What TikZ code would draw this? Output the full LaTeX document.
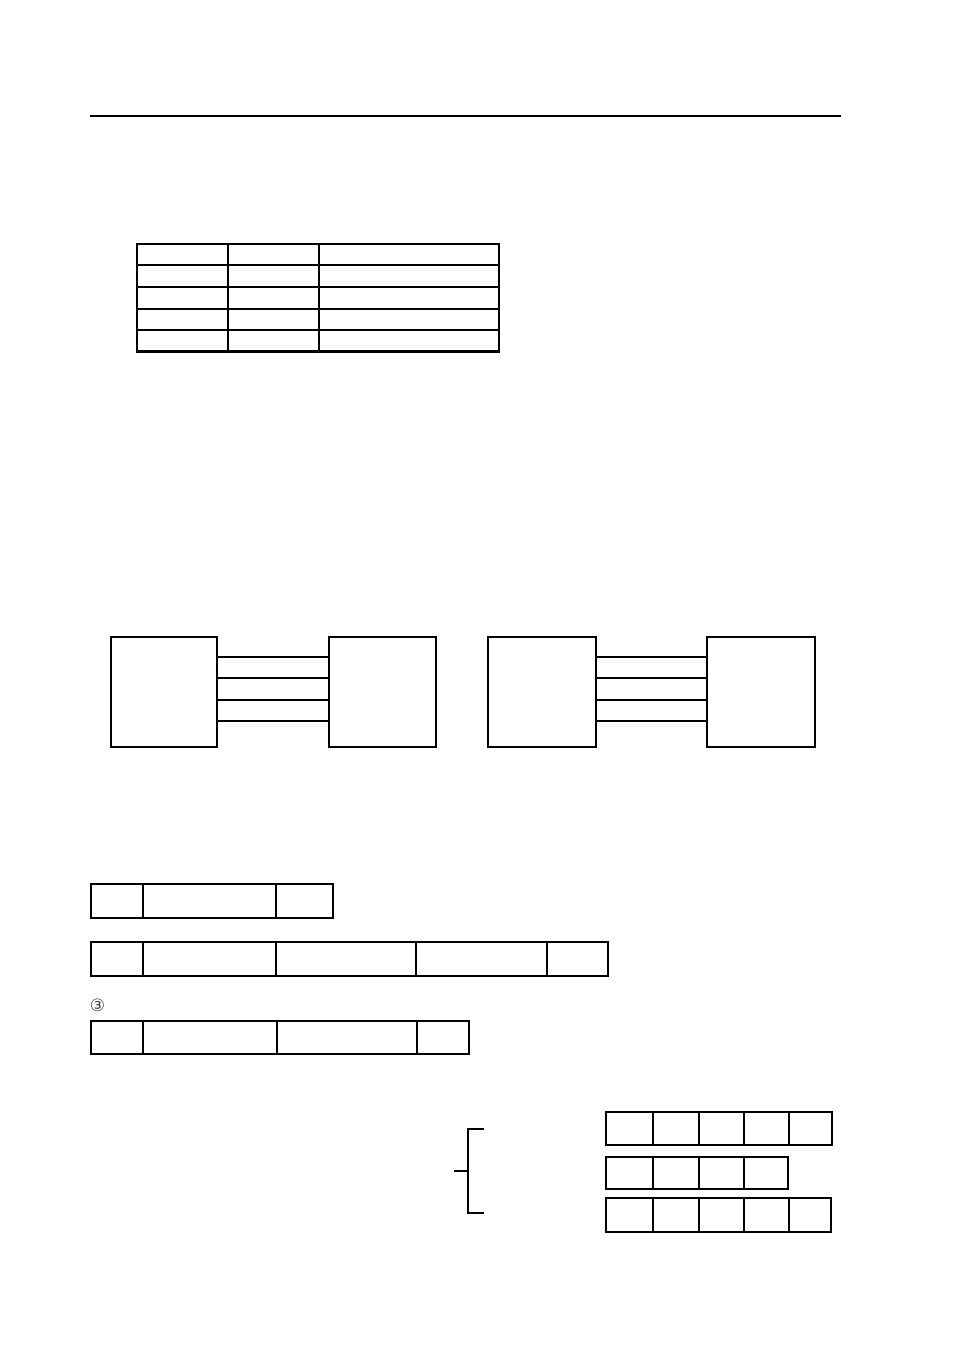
\documentclass[tikz,border=0pt]{standalone}
\usepackage{fontspec}
\newfontfamily\symfont{DejaVu Sans}
\usetikzlibrary{fit}
\tikzset{
  ln/.style={line width=1.2pt, line cap=rect},
  box/.style={draw, line width=1.2pt, inner sep=0pt, fit={#1}},
}
\begin{document}
\begin{tikzpicture}[x=1pt,y=-1pt]
\useasboundingbox (0,0) rectangle (954,1351);
% top rule
\coordinate (tl) at (91,116);
\coordinate (tr) at (840,116);
\draw[ln] (tl) -- (tr);
% table
\foreach \r/\ya/\yb in {1/244/265,2/265/287,3/287/309,4/309/330,5/330/351}{
  \foreach \c/\xa/\xb in {1/137/228,2/228/319,3/319/499}{
    \node[box={(\xa,\ya) (\xb,\yb)}] (t\r\c) {};
  }
}
\draw[line width=2.6pt] (t51.south west) -- (t53.south east);
% block diagrams
\node[box={(111,637) (217,747)}] (A1) {};
\node[box={(329,637) (436,747)}] (B1) {};
\node[box={(488,637) (596,747)}] (A2) {};
\node[box={(707,637) (815,747)}] (B2) {};
\foreach \y in {657,678,700,721}{
  \draw[ln] (A1.east |- 0,\y) -- (B1.west |- 0,\y);
  \draw[ln] (A2.east |- 0,\y) -- (B2.west |- 0,\y);
}
% frame rows
\foreach \c/\xa/\xb in {1/91/143,2/143/276,3/276/333}{
  \node[box={(\xa,884) (\xb,918)}] (f1\c) {};
}
\foreach \c/\xa/\xb in {1/91/143,2/143/276,3/276/416,4/416/547,5/547/608}{
  \node[box={(\xa,942) (\xb,976)}] (f2\c) {};
}
\node[anchor=center, inner sep=0pt, text=black!75] (n3) at (97.5,1005) {\symfont\fontsize{17pt}{17pt}\selectfont ③};
\foreach \c/\xa/\xb in {1/91/143,2/143/277,3/277/417,4/417/469}{
  \node[box={(\xa,1021) (\xb,1054)}] (f3\c) {};
}
% bracket
\coordinate (bt) at (468,1129);
\coordinate (bte) at (483,1129);
\coordinate (bb) at (468,1213);
\coordinate (bbe) at (483,1213);
\coordinate (bm) at (468,1171);
\coordinate (bms) at (455,1171);
\draw[ln] (bte) -- (bt) -- (bb) -- (bbe);
\draw[ln] (bms) -- (bm);
% grid rows
\foreach \c/\xa/\xb in {1/606/653,2/653/699,3/699/744,4/744/789,5/789/832}{
  \node[box={(\xa,1112) (\xb,1145)}] (g1\c) {};
}
\foreach \c/\xa/\xb in {1/606/653,2/653/699,3/699/744,4/744/788}{
  \node[box={(\xa,1157) (\xb,1189)}] (g2\c) {};
}
\foreach \c/\xa/\xb in {1/606/653,2/653/699,3/699/744,4/744/789,5/789/831}{
  \node[box={(\xa,1198) (\xb,1232)}] (g3\c) {};
}
\end{tikzpicture}
\end{document}
